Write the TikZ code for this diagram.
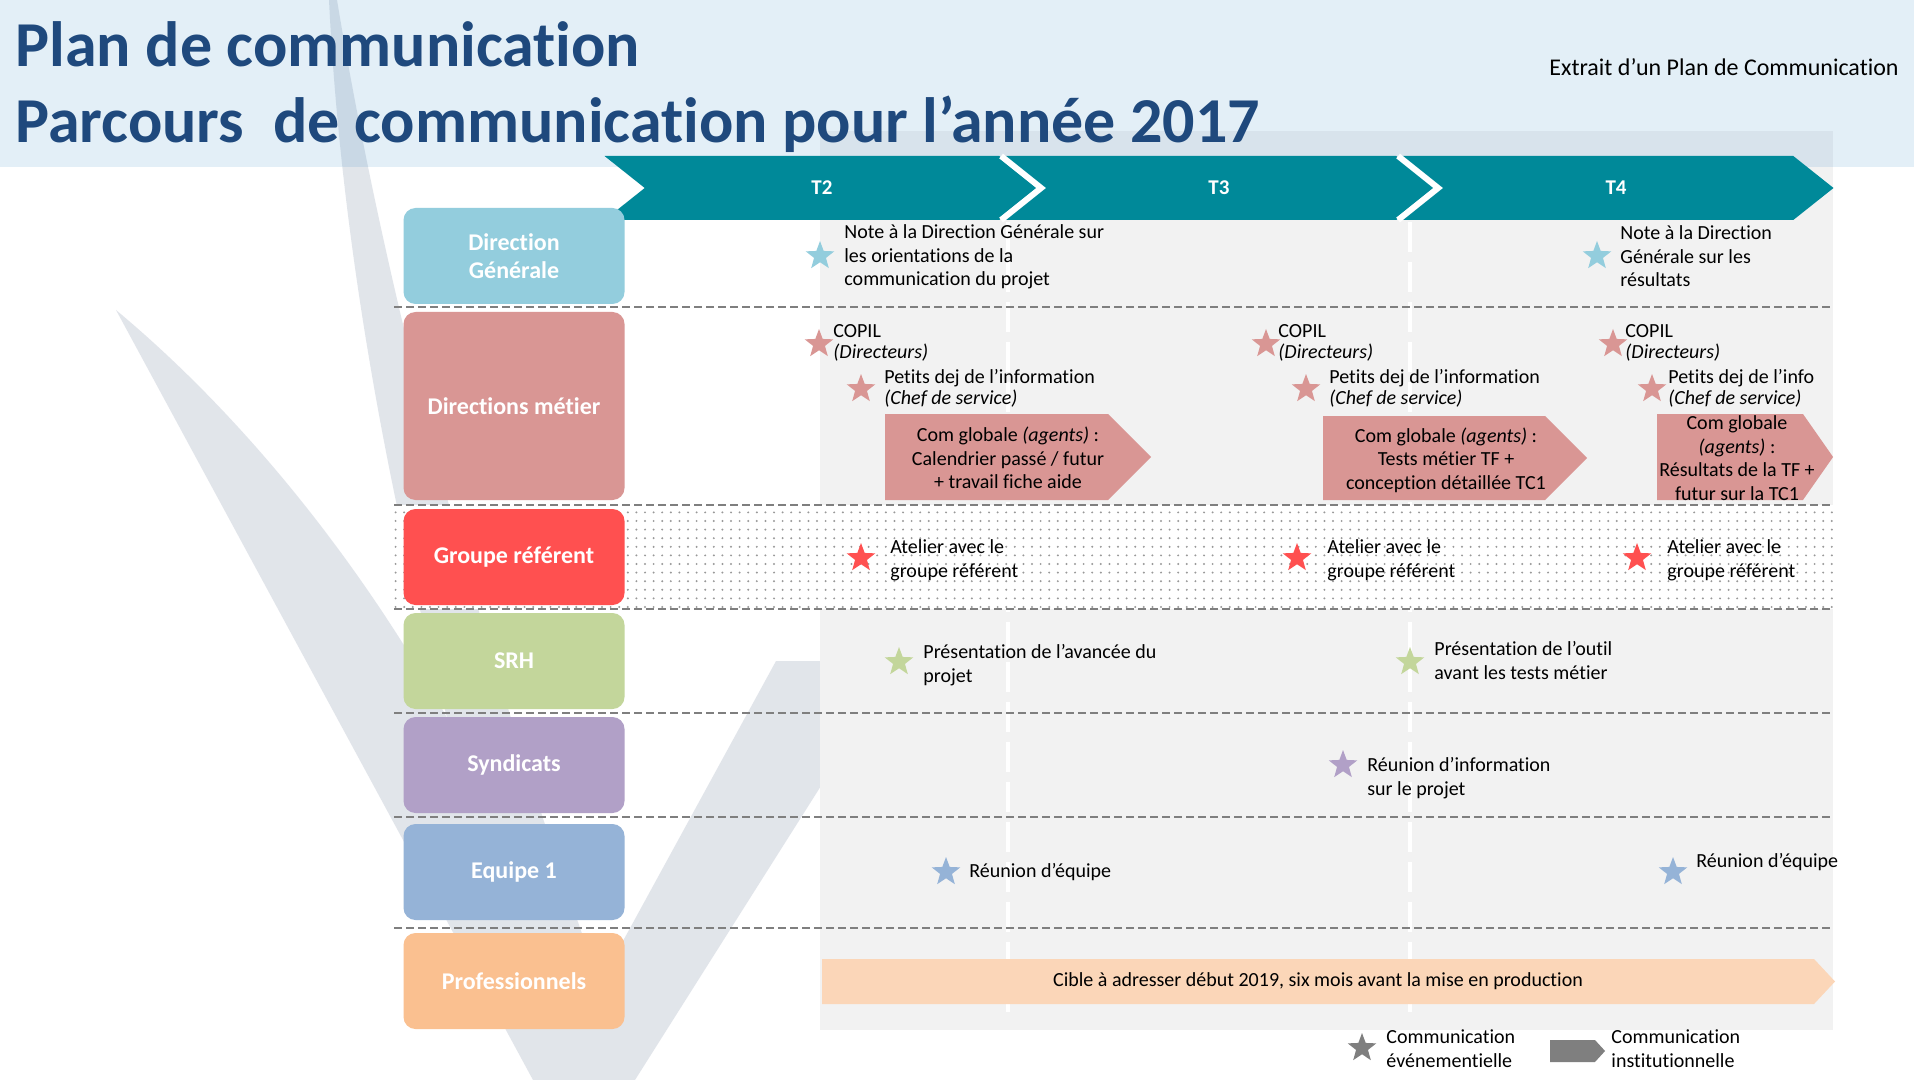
\documentclass[tikz,border=0pt]{standalone}
\usepackage{fontspec}
\setmainfont{Carlito}[Ligatures={TeX,NoCommon}]
\usetikzlibrary{positioning,shapes.geometric,shapes.symbols,patterns}

\definecolor{titleblue}{RGB}{31,73,125}
\definecolor{bandblue}{RGB}{68,148,202}
\definecolor{panelgray}{RGB}{242,242,242}
\definecolor{sepgray}{RGB}{127,127,127}
\definecolor{phaseteal}{RGB}{0,137,153}
\definecolor{dgblue}{RGB}{147,205,221}
\definecolor{dmpink}{RGB}{217,150,148}
\definecolor{grred}{RGB}{255,80,80}
\definecolor{srhgreen}{RGB}{195,214,155}
\definecolor{synpurple}{RGB}{177,160,199}
\definecolor{eqblue}{RGB}{149,179,215}
\definecolor{proorange}{RGB}{250,192,144}
\definecolor{propeach}{RGB}{251,214,184}
\definecolor{markgray}{RGB}{60,82,120}

\pgfdeclarepatternformonly{gdots}{\pgfqpoint{-1pt}{-1pt}}{\pgfqpoint{1pt}{1pt}}{\pgfqpoint{4.3pt}{4.3pt}}{%
  \pgfpathcircle{\pgfqpoint{0pt}{0pt}}{0.55pt}\pgfusepath{fill}}

\begin{document}
\begin{tikzpicture}[x=0.5pt, y=-0.5pt,
    row box/.style={rounded corners=6pt, minimum width=110.5pt, minimum height=48pt, inner sep=0pt,
                    align=center, text=white, font=\fontsize{12}{14}\selectfont\bfseries},
    phase/.style={signal, signal from=west, signal to=east, signal pointer angle=77, fill=phaseteal,
                  minimum width=217.5pt, minimum height=32pt, inner sep=0pt, text=white,
                  font=\fontsize{10.5}{12}\selectfont\bfseries},
    phase gap/.style={draw=white, line width=3pt},
    com arrow/.style={signal, signal to=east, signal pointer angle=90, fill=dmpink, inner sep=0pt},
    com text/.style={align=center, inner sep=0pt, font=\fontsize{10}{11.75}\selectfont},
    event/.style={star, star points=5, star point ratio=2.4, minimum size=15pt, inner sep=0pt},
    note/.style={anchor=base west, align=left, inner sep=0pt, font=\fontsize{10}{11.75}\selectfont},
    small note/.style={note, font=\fontsize{10}{10.5}\selectfont},
    separator/.style={draw=sepgray, line width=1pt, dash pattern=on 4pt off 2pt},
    quarter line/.style={draw=white, line width=2pt, dash pattern=on 15pt off 5pt}]

  \useasboundingbox (0,0) rectangle (1920,1080);
  \fill[white] (0,0) rectangle (1920,1080);

  % watermark
  \begin{scope}[transparency group, opacity=0.15]
    \fill[markgray] (116,310) .. controls (260,430) and (390,600) .. (480,780) -- (635,1080) -- (533,1080) -- cycle;
    \fill[markgray] (329,0) -- (337,0) .. controls (380,260) and (470,640) .. (635,1080) -- (560,1080)
                     .. controls (430,720) and (345,330) .. (329,0) -- cycle;
    \fill[markgray] (776,661) -- (900,661) -- (635,1080) -- (547,1080) -- cycle;
  \end{scope}

  \fill[panelgray] (820,131) rectangle (1833,1030);
  \fill[bandblue, fill opacity=0.15] (0,0) rectangle (1914,167);

  \draw[quarter line] (1008,222) -- (1008,1018);
  \draw[quarter line] (1410,222) -- (1410,1018);

  % groupe referent band
  \fill[white] (394,505) rectangle (1833,609);
  \fill[pattern=gdots, pattern color=sepgray!80] (394,505) rectangle (1833,609);

  \draw[separator] (394,307) -- (1833,307);
  \draw[separator] (394,505) -- (1833,505);
  \draw[separator] (394,609) -- (1833,609);
  \draw[separator] (394,713) -- (1833,713);
  \draw[separator] (394,817) -- (1833,817);
  \draw[separator] (394,928) -- (1833,928);

  \node[anchor=base west, inner sep=0pt, text=titleblue, font=\fontsize{32}{38}\selectfont\bfseries] (title) at (15,67) {Plan de communication};
  \node[anchor=base west, inner sep=0pt, text=titleblue, font=\fontsize{32}{38}\selectfont\bfseries] (subtitle) at (15,143) {Parcours\ \ de communication pour l’année 2017};
  \node[anchor=base east, inner sep=0pt, font=\fontsize{12}{14}\selectfont] (extract) at (1899,76) {Extrait d’un Plan de Communication};

  \node[phase] (t2) at (822,188) {T2};
  \node[phase] (t3) at (1219,188) {T3};
  \node[phase] (t4) at (1616,188) {T4};
  \draw[phase gap] ([shift={(-40,-32)}]t3.west) -- (t3.west) -- ([shift={(-40,32)}]t3.west);
  \draw[phase gap] ([shift={(-40,-32)}]t4.west) -- (t4.west) -- ([shift={(-40,32)}]t4.west);

  \node[row box, fill=dgblue] (dg) at (514,256) {Direction\\Générale};
  \node[row box, fill=dmpink, minimum height=94pt] (dm) at (514,406) {Directions métier};
  \node[row box, fill=grred] (gr) at (514,557) {Groupe référent};
  \node[row box, fill=srhgreen] (srh) at (514,661) {SRH};
  \node[row box, fill=synpurple] (syn) at (514,765) {Syndicats};
  \node[row box, fill=eqblue] (eq) at (514,872) {Equipe 1};
  \node[row box, fill=proorange] (pro) at (514,981) {Professionnels};

  % direction generale
  \node[event, fill=dgblue] (dgA) at (820,256) {};
  \node[note] (dgAtext) at (844,286) {Note à la Direction Générale sur\\les orientations de la\\communication du projet};
  \node[event, fill=dgblue] (dgB) at (1597,256) {};
  \node[note] (dgBtext) at (1620,287) {Note à la Direction\\Générale sur les\\résultats};

  % directions metier
  \node[event, fill=dmpink] (copilA) at (819,344) {};
  \node[small note] (copilAtext) at (833,358) {COPIL\\\textit{(Directeurs)}};
  \node[event, fill=dmpink] (copilB) at (1266,344) {};
  \node[small note] (copilBtext) at (1278,358) {COPIL\\\textit{(Directeurs)}};
  \node[event, fill=dmpink] (copilC) at (1613,344) {};
  \node[small note] (copilCtext) at (1625,358) {COPIL\\\textit{(Directeurs)}};
  \node[event, fill=dmpink] (dejA) at (861,389) {};
  \node[small note] (dejAtext) at (884,404) {Petits dej de l’information\\\textit{(Chef de service)}};
  \node[event, fill=dmpink] (dejB) at (1306,389) {};
  \node[small note] (dejBtext) at (1329,404) {Petits dej de l’information\\\textit{(Chef de service)}};
  \node[event, fill=dmpink] (dejC) at (1652,389) {};
  \node[small note] (dejCtext) at (1668,404) {Petits dej de l’info\\\textit{(Chef de service)}};

  \node[com arrow, minimum width=133pt, minimum height=43pt] (comA) at (996.5,457) {};
  \node[com text] (comAtext) at (1008,458) {Com globale \textit{(agents)} :\\Calendrier passé / futur\\+ travail fiche aide};
  \node[com arrow, minimum width=132pt, minimum height=42pt] (comB) at (1434,458) {};
  \node[com text] (comBtext) at (1446,460) {Com globale \textit{(agents)} :\\Tests métier TF +\\conception détaillée TC1};
  \node[com arrow, signal pointer angle=110, minimum width=88pt, minimum height=43pt] (comC) at (1730,457) {};
  \node[com text] (comCtext) at (1737,458) {Com globale\\\textit{(agents)} :\\Résultats de la TF +\\futur sur la TC1};

  % groupe referent
  \node[event, fill=grred] (grA) at (861,558) {};
  \node[note] (grAtext) at (890,577) {Atelier avec le\\groupe référent};
  \node[event, fill=grred] (grB) at (1297,558) {};
  \node[note] (grBtext) at (1327,577) {Atelier avec le\\groupe référent};
  \node[event, fill=grred] (grC) at (1637,558) {};
  \node[note] (grCtext) at (1667,577) {Atelier avec le\\groupe référent};

  % srh, syndicats, equipe
  \node[event, fill=srhgreen] (srhA) at (899,662) {};
  \node[note] (srhAtext) at (923,682) {Présentation de l’avancée du\\projet};
  \node[event, fill=srhgreen] (srhB) at (1410,662) {};
  \node[note] (srhBtext) at (1434,679) {Présentation de l’outil\\avant les tests métier};
  \node[event, fill=synpurple] (synA) at (1343,765) {};
  \node[note] (synAtext) at (1367,795) {Réunion d’information\\sur le projet};
  \node[event, fill=eqblue] (eqA) at (946,872) {};
  \node[note] (eqAtext) at (969,877) {Réunion d’équipe};
  \node[event, fill=eqblue] (eqB) at (1673,872) {};
  \node[note] (eqBtext) at (1696,867) {Réunion d’équipe};

  % professionnels
  \node[com arrow, fill=propeach, signal pointer angle=94, minimum width=506.5pt, minimum height=22.5pt,
        font=\fontsize{10}{11.75}\selectfont] (proarrow) at (1318,981.5) {Cible à adresser début 2019, six mois avant la mise en production};

  % legend
  \node[event, fill=sepgray] (legstar) at (1362,1048) {};
  \node[note] (legstartext) at (1386,1067) {Communication\\événementielle};
  \node[com arrow, fill=sepgray, signal pointer angle=95, minimum width=27.5pt, minimum height=11pt] (legarrow) at (1572.5,1051) {};
  \node[note] (legarrowtext) at (1611,1067) {Communication\\institutionnelle};

\end{tikzpicture}
\end{document}
